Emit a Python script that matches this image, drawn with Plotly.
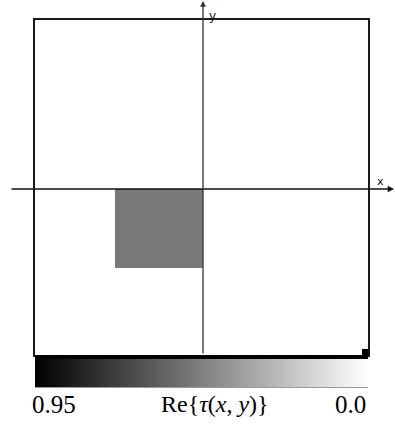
import numpy as np
import plotly.graph_objects as go

# ---- data ----
x_edges = [-1.01, -0.53, 0.0, 0.99]
y_edges = [-0.99, -0.47, 0.0, 1.01]
tau_re = [
    [0.0, 0.0, 0.0],
    [0.0, 0.5, 0.0],
    [0.0, 0.0, 0.0],
]
z_min, z_max = 0.0, 0.95
cb_tick_vals = [0.95, 0.0]
cb_tick_text = ["0.95", "0.0"]
cb_title = "Re{<i>τ</i>(<i>x</i>, <i>y</i>)}"

W, H = 395, 427
def px(x): return x / W
def py(y): return (H - y) / H

gray = [[0, "white"], [1, "black"]]
SERIF = "Liberation Serif"

fig = go.Figure()
fig.add_trace(go.Heatmap(
    x=x_edges, y=y_edges, z=tau_re, zmin=z_min, zmax=z_max,
    colorscale=gray, showscale=False, xaxis="x", yaxis="y", hoverinfo="skip"))

cb_scale = np.linspace(z_max, z_min, 300)
fig.add_trace(go.Heatmap(
    x=cb_scale, y=[0, 1], z=[cb_scale, cb_scale], zmin=z_min, zmax=z_max,
    colorscale=gray, showscale=False, xaxis="x2", yaxis="y2", hoverinfo="skip"))

fig.update_layout(
    width=W, height=H, margin=dict(l=0, r=0, t=0, b=0),
    paper_bgcolor="white", plot_bgcolor="white", showlegend=False,
    xaxis=dict(domain=[px(35), px(368)], range=[x_edges[0], x_edges[-1]],
               showgrid=False, zeroline=False, showticklabels=False, ticks="",
               showline=True, mirror=True, linecolor="#1a1a1a", linewidth=2),
    yaxis=dict(domain=[py(355), py(20)], range=[y_edges[0], y_edges[-1]],
               showgrid=False, zeroline=False, showticklabels=False, ticks="",
               showline=True, mirror=True, linecolor="#1a1a1a", linewidth=2),
    xaxis2=dict(domain=[px(35), px(368)], range=[z_max, z_min], anchor="y2",
                showgrid=False, zeroline=False, showticklabels=False, ticks="",
                showline=True, mirror=True, linecolor="#999", linewidth=1),
    yaxis2=dict(domain=[py(387), py(359)], range=[0, 1], anchor="x2",
                showgrid=False, zeroline=False, showticklabels=False, ticks=""),
)

# thick black bar between plot and colour bar, and small square at its right end
fig.add_shape(type="rect", xref="paper", yref="paper",
              x0=px(35), x1=px(368), y0=py(359), y1=py(355),
              fillcolor="black", line_width=0)
fig.add_shape(type="rect", xref="paper", yref="paper",
              x0=px(362), x1=px(368.5), y0=py(355), y1=py(349),
              fillcolor="black", line_width=0)

# coordinate axes with arrows
fig.add_annotation(xref="paper", yref="paper", x=px(394), y=py(189),
                   axref="pixel", ayref="pixel", ax=-384, ay=0, text="",
                   showarrow=True, arrowhead=2, arrowsize=0.9, arrowwidth=1.4,
                   arrowcolor="#111")
fig.add_annotation(xref="paper", yref="paper", x=px(203), y=py(1),
                   axref="pixel", ayref="pixel", ax=0, ay=354, text="",
                   showarrow=True, arrowhead=2, arrowsize=0.9, arrowwidth=1.3,
                   arrowcolor="#333")
fig.add_annotation(xref="paper", yref="paper", x=px(386), y=py(181), text="x",
                   showarrow=False, font=dict(family="DejaVu Sans", size=11, color="#111"))
fig.add_annotation(xref="paper", yref="paper", x=px(212), y=py(7), text="y",
                   showarrow=False, font=dict(family="DejaVu Sans", size=12, color="#111"))

for v, t, anchor, shift in zip(cb_tick_vals, cb_tick_text, ["left", "right"], [-5, 0]):
    fig.add_annotation(xref="x2", yref="paper", x=v, y=py(404), text=t,
                       xanchor=anchor, yanchor="middle", xshift=shift,
                       showarrow=False, font=dict(family=SERIF, size=25, color="black"))
fig.add_annotation(xref="paper", yref="paper", x=px(215), y=py(404), text=cb_title,
                   xanchor="center", yanchor="middle", showarrow=False,
                   font=dict(family=SERIF, size=24, color="black"))

# remove the browser's default 8px body margin so the figure fills the window
fig.write_html("out.html", config={"displayModeBar": False, "staticPlot": True},
               post_script="document.body.style.margin='0';document.body.style.overflow='hidden';")
